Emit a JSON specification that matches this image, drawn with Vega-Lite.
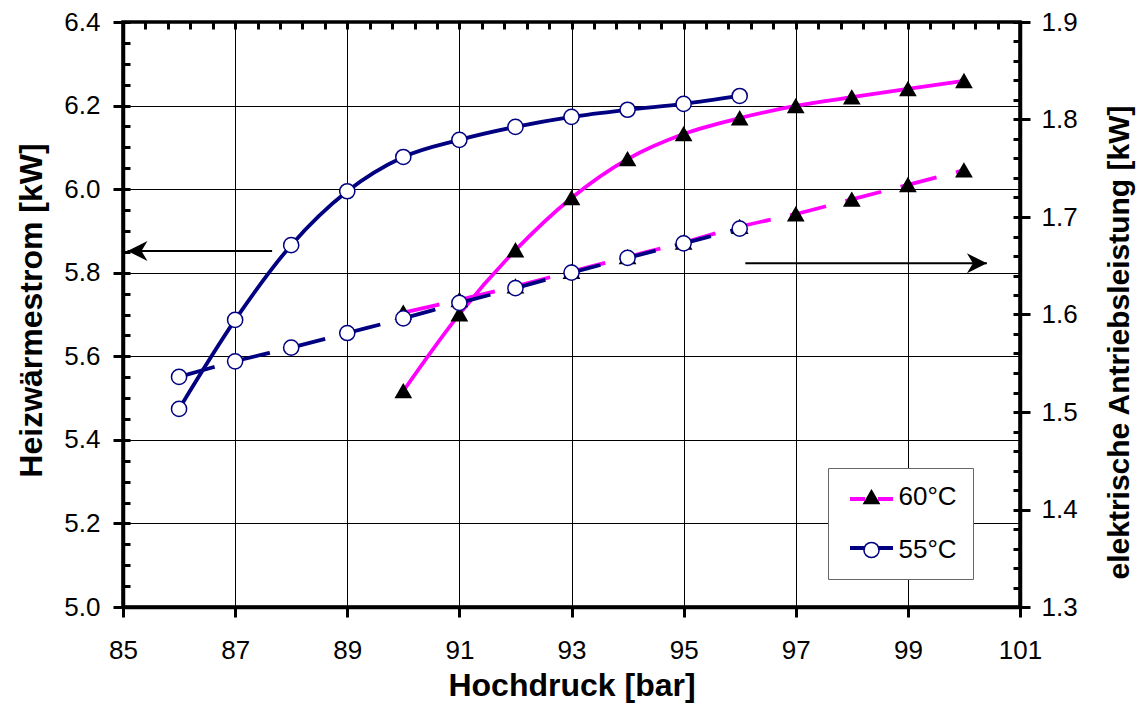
{
  "$schema": "https://vega.github.io/schema/vega-lite/v6.json",
  "width": 897,
  "height": 585,
  "autosize": "none",
  "padding": {"left": 123, "top": 22, "right": 119, "bottom": 97},
  "background": "white",
  "config": {
    "font": "Liberation Sans",
    "view": {"stroke": "black", "strokeWidth": 3.5},
    "axis": {
      "domainColor": "black",
      "domainWidth": 3.5,
      "tickColor": "black",
      "tickWidth": 3,
      "labelColor": "black",
      "labelFont": "Liberation Sans",
      "labelFontSize": 26,
      "titleColor": "black",
      "titleFont": "Liberation Sans",
      "titleFontSize": 32,
      "titleFontWeight": "bold",
      "gridColor": "black",
      "gridWidth": 1,
      "gridOpacity": 1
    }
  },
  "datasets": {
    "curves": [
      {"p": 90, "series": "60°C", "kind": "heat", "value": 5.517},
      {"p": 91, "series": "60°C", "kind": "heat", "value": 5.701},
      {"p": 92, "series": "60°C", "kind": "heat", "value": 5.854},
      {"p": 93, "series": "60°C", "kind": "heat", "value": 5.979},
      {"p": 94, "series": "60°C", "kind": "heat", "value": 6.072},
      {"p": 95, "series": "60°C", "kind": "heat", "value": 6.132},
      {"p": 96, "series": "60°C", "kind": "heat", "value": 6.170},
      {"p": 97, "series": "60°C", "kind": "heat", "value": 6.199},
      {"p": 98, "series": "60°C", "kind": "heat", "value": 6.220},
      {"p": 99, "series": "60°C", "kind": "heat", "value": 6.240},
      {"p": 100, "series": "60°C", "kind": "heat", "value": 6.259},
      {"p": 90, "series": "60°C", "kind": "power", "value": 1.602},
      {"p": 91, "series": "60°C", "kind": "power", "value": 1.615},
      {"p": 92, "series": "60°C", "kind": "power", "value": 1.629},
      {"p": 93, "series": "60°C", "kind": "power", "value": 1.644},
      {"p": 94, "series": "60°C", "kind": "power", "value": 1.659},
      {"p": 95, "series": "60°C", "kind": "power", "value": 1.674},
      {"p": 96, "series": "60°C", "kind": "power", "value": 1.690},
      {"p": 97, "series": "60°C", "kind": "power", "value": 1.703},
      {"p": 98, "series": "60°C", "kind": "power", "value": 1.718},
      {"p": 99, "series": "60°C", "kind": "power", "value": 1.733},
      {"p": 100, "series": "60°C", "kind": "power", "value": 1.748},
      {"p": 86, "series": "55°C", "kind": "heat", "value": 5.474},
      {"p": 87, "series": "55°C", "kind": "heat", "value": 5.687},
      {"p": 88, "series": "55°C", "kind": "heat", "value": 5.866},
      {"p": 89, "series": "55°C", "kind": "heat", "value": 5.995},
      {"p": 90, "series": "55°C", "kind": "heat", "value": 6.077},
      {"p": 91, "series": "55°C", "kind": "heat", "value": 6.118},
      {"p": 92, "series": "55°C", "kind": "heat", "value": 6.149},
      {"p": 93, "series": "55°C", "kind": "heat", "value": 6.173},
      {"p": 94, "series": "55°C", "kind": "heat", "value": 6.190},
      {"p": 95, "series": "55°C", "kind": "heat", "value": 6.204},
      {"p": 96, "series": "55°C", "kind": "heat", "value": 6.223},
      {"p": 86, "series": "55°C", "kind": "power", "value": 1.536},
      {"p": 87, "series": "55°C", "kind": "power", "value": 1.552},
      {"p": 88, "series": "55°C", "kind": "power", "value": 1.566},
      {"p": 89, "series": "55°C", "kind": "power", "value": 1.581},
      {"p": 90, "series": "55°C", "kind": "power", "value": 1.596},
      {"p": 91, "series": "55°C", "kind": "power", "value": 1.612},
      {"p": 92, "series": "55°C", "kind": "power", "value": 1.627},
      {"p": 93, "series": "55°C", "kind": "power", "value": 1.643},
      {"p": 94, "series": "55°C", "kind": "power", "value": 1.658},
      {"p": 95, "series": "55°C", "kind": "power", "value": 1.673},
      {"p": 96, "series": "55°C", "kind": "power", "value": 1.688}
    ],
    "arrows": [
      {"dir": "left", "from": 87.66, "to": 85.08, "level": 5.852},
      {"dir": "right", "from": 96.10, "to": 100.41, "level": 5.8225}
    ]
  },
  "layer": [
    {
      "data": {"name": "curves"},
      "transform": [{"filter": "datum.kind === 'heat'"}],
      "mark": {"type": "line", "interpolate": "cardinal", "strokeWidth": 3.8},
      "encoding": {
        "x": {
          "field": "p", "type": "quantitative",
          "scale": {"domain": [85, 101], "nice": false, "zero": false},
          "axis": {
            "values": [85, 87, 89, 91, 93, 95, 97, 99, 101],
            "format": "d",
            "tickSize": 10,
            "grid": true,
            "labelPadding": 20,
            "labelFlush": false,
            "labelOverlap": false,
            "title": "Hochdruck [bar]",
            "titleBaseline": "alphabetic",
            "titleY": 88
          }
        },
        "y": {
          "field": "value", "type": "quantitative",
          "scale": {"domain": [5, 6.4], "nice": false, "zero": false},
          "axis": {
            "orient": "left",
            "values": [5, 5.2, 5.4, 5.6, 5.8, 6, 6.2, 6.4],
            "format": ".1f",
            "tickSize": 10,
            "grid": true,
            "labelPadding": 13,
            "labelFlush": false,
            "labelOverlap": false,
            "title": "Heizwärmestrom [kW]",
            "titleAngle": -90,
            "titleAlign": "center",
            "titleBaseline": "alphabetic",
            "titleX": -82,
            "titleY": 288
          }
        },
        "color": {
          "field": "series", "type": "nominal",
          "scale": {"domain": ["60°C", "55°C"], "range": ["#FF00FF", "#000080"]},
          "legend": {
            "orient": "none",
            "direction": "vertical",
            "legendX": 725,
            "legendY": 453.5,
            "title": null,
            "padding": 0,
            "rowPadding": 17,
            "symbolType": "M-1,0H-0.3M0.3,0H1",
            "symbolSize": 1849,
            "symbolStrokeWidth": 4,
            "labelFontSize": 10,
            "labelExpr": "''",
            "zindex": 2
          }
        }
      }
    },
    {
      "data": {"name": "curves"},
      "transform": [{"filter": "datum.kind === 'power'"}],
      "mark": {"type": "line", "interpolate": "cardinal", "strokeWidth": 3.8, "strokeDash": [37, 20]},
      "encoding": {
        "x": {
          "field": "p", "type": "quantitative",
          "axis": {
            "values": [85, 85.4, 85.8, 86.2, 86.6, 87, 87.4, 87.8, 88.2, 88.6, 89, 89.4, 89.8, 90.2, 90.6, 91, 91.4, 91.8, 92.2, 92.6, 93, 93.4, 93.8, 94.2, 94.6, 95, 95.4, 95.8, 96.2, 96.6, 97, 97.4, 97.8, 98.2, 98.6, 99, 99.4, 99.8, 100.2, 100.6, 101],
            "tickSize": -7,
            "labels": false,
            "domain": false,
            "grid": false,
            "title": null
          }
        },
        "y": {
          "field": "value", "type": "quantitative",
          "scale": {"domain": [1.3, 1.9], "nice": false, "zero": false},
          "axis": {
            "orient": "right",
            "values": [1.3, 1.4, 1.5, 1.6, 1.7, 1.8, 1.9],
            "format": ".1f",
            "tickSize": 10,
            "grid": false,
            "labelPadding": 11,
            "labelFlush": false,
            "labelOverlap": false,
            "title": "elektrische Antriebsleistung [kW]",
            "titleFontSize": 30,
            "titleAngle": -90,
            "titleAlign": "center",
            "titleBaseline": "alphabetic",
            "titleX": 108,
            "titleY": 320
          }
        },
        "color": {"field": "series", "type": "nominal", "legend": null}
      }
    },
    {
      "data": {"name": "curves"},
      "transform": [{"filter": "datum.kind === 'heat'"}],
      "mark": {"type": "point", "filled": true, "opacity": 1, "size": 230, "strokeWidth": 1.5},
      "encoding": {
        "x": {"field": "p", "type": "quantitative", "axis": null},
        "y": {
          "field": "value", "type": "quantitative",
          "scale": {"domain": [5, 6.4], "nice": false, "zero": false},
          "axis": {
            "orient": "left",
            "values": [5, 5.05, 5.1, 5.15, 5.2, 5.25, 5.3, 5.35, 5.4, 5.45, 5.5, 5.55, 5.6, 5.65, 5.7, 5.75, 5.8, 5.85, 5.9, 5.95, 6, 6.05, 6.1, 6.15, 6.2, 6.25, 6.3, 6.35, 6.4],
            "tickSize": -7,
            "labels": false,
            "domain": false,
            "grid": false,
            "title": null
          }
        },
        "shape": {
          "field": "series", "type": "nominal", "sort": "descending",
          "scale": {"range": ["triangle-up", "circle"]},
          "legend": {
            "orient": "none", "direction": "vertical", "legendX": 705, "legendY": 446,
            "title": null, "padding": 16, "rowPadding": 27, "symbolOffset": 14.5, "labelOffset": 14,
            "fillColor": "white", "strokeColor": "#666", "labelFontSize": 26, "labelColor": "black",
            "labelFont": "Liberation Sans", "symbolSize": 230, "symbolStrokeWidth": 1.5, "symbolOpacity": 1, "zindex": 1
          }
        },
        "fill": {
          "field": "series", "type": "nominal", "sort": "descending",
          "scale": {"range": ["black", "white"]},
          "legend": {
            "orient": "none", "direction": "vertical", "legendX": 705, "legendY": 446,
            "title": null, "padding": 16, "rowPadding": 27, "symbolOffset": 14.5, "labelOffset": 14,
            "fillColor": "white", "strokeColor": "#666", "labelFontSize": 26, "labelColor": "black",
            "labelFont": "Liberation Sans", "symbolSize": 230, "symbolStrokeWidth": 1.5, "symbolOpacity": 1, "zindex": 1
          }
        },
        "stroke": {
          "field": "series", "type": "nominal", "sort": "descending",
          "scale": {"range": ["black", "#000080"]},
          "legend": {
            "orient": "none", "direction": "vertical", "legendX": 705, "legendY": 446,
            "title": null, "padding": 16, "rowPadding": 27, "symbolOffset": 14.5, "labelOffset": 14,
            "fillColor": "white", "strokeColor": "#666", "labelFontSize": 26, "labelColor": "black",
            "labelFont": "Liberation Sans", "symbolSize": 230, "symbolStrokeWidth": 1.5, "symbolOpacity": 1, "zindex": 1
          }
        }
      }
    },
    {
      "data": {"name": "curves"},
      "transform": [{"filter": "datum.kind === 'power'"}],
      "mark": {"type": "point", "filled": true, "opacity": 1, "size": 230, "strokeWidth": 1.5},
      "encoding": {
        "x": {"field": "p", "type": "quantitative", "axis": null},
        "y": {
          "field": "value", "type": "quantitative",
          "scale": {"domain": [1.3, 1.9], "nice": false, "zero": false},
          "axis": {
            "orient": "right",
            "values": [1.3, 1.32, 1.34, 1.36, 1.38, 1.4, 1.42, 1.44, 1.46, 1.48, 1.5, 1.52, 1.54, 1.56, 1.58, 1.6, 1.62, 1.64, 1.66, 1.68, 1.7, 1.72, 1.74, 1.76, 1.78, 1.8, 1.82, 1.84, 1.86, 1.88, 1.9],
            "tickSize": -7,
            "labels": false,
            "domain": false,
            "grid": false,
            "title": null
          }
        },
        "shape": {"field": "series", "type": "nominal", "sort": "descending", "legend": null},
        "fill": {"field": "series", "type": "nominal", "sort": "descending", "legend": null},
        "stroke": {"field": "series", "type": "nominal", "sort": "descending", "legend": null}
      }
    },
    {
      "data": {"name": "arrows"},
      "mark": {"type": "rule", "color": "black", "strokeWidth": 2},
      "encoding": {
        "x": {"field": "from", "type": "quantitative", "axis": null},
        "x2": {"field": "to"},
        "y": {"field": "level", "type": "quantitative", "scale": {"domain": [5, 6.4], "nice": false, "zero": false}, "axis": null}
      }
    },
    {
      "data": {"name": "arrows"},
      "transform": [{"filter": "datum.dir === 'left'"}],
      "mark": {"type": "point", "filled": true, "opacity": 1, "color": "black", "size": 400, "strokeWidth": 0, "shape": "M0,0L2,-1L1.4,0L2,1Z"},
      "encoding": {
        "x": {"field": "to", "type": "quantitative", "axis": null},
        "y": {"field": "level", "type": "quantitative", "scale": {"domain": [5, 6.4], "nice": false, "zero": false}, "axis": null}
      }
    },
    {
      "data": {"name": "arrows"},
      "transform": [{"filter": "datum.dir === 'right'"}],
      "mark": {"type": "point", "filled": true, "opacity": 1, "color": "black", "size": 400, "strokeWidth": 0, "shape": "M0,0L-2,-1L-1.4,0L-2,1Z"},
      "encoding": {
        "x": {"field": "to", "type": "quantitative", "axis": null},
        "y": {"field": "level", "type": "quantitative", "scale": {"domain": [5, 6.4], "nice": false, "zero": false}, "axis": null}
      }
    }
  ],
  "resolve": {
    "scale": {"y": "independent"},
    "axis": {"x": "independent", "y": "independent"}
  }
}
